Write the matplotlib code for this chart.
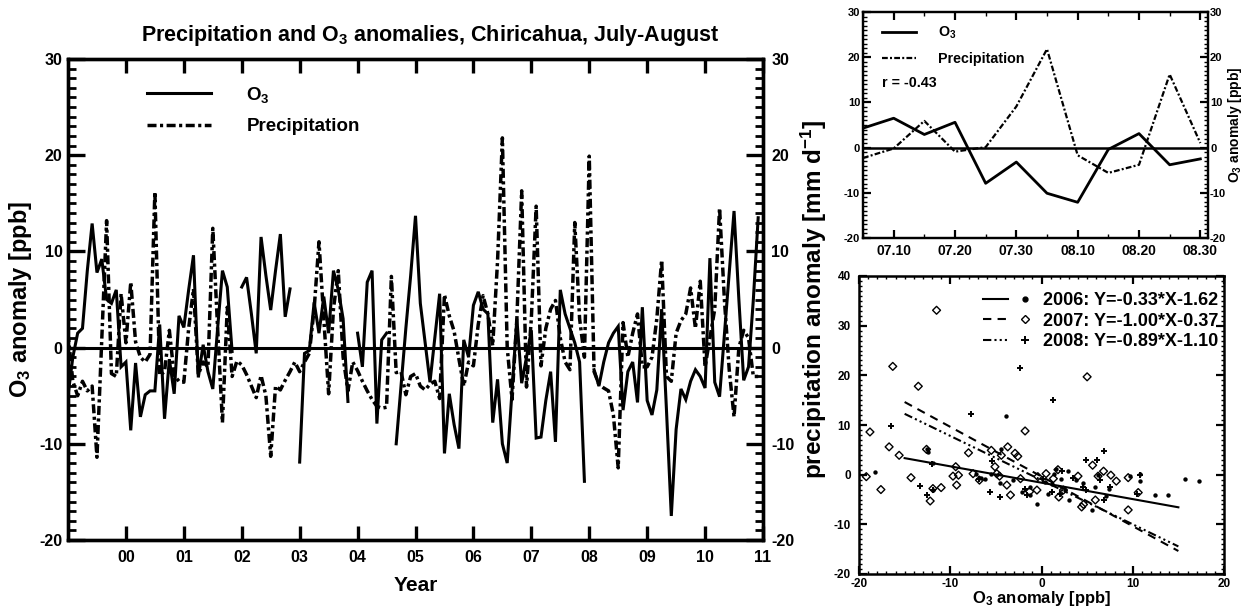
import numpy as np
import matplotlib.pyplot as plt
from matplotlib.lines import Line2D
from matplotlib.legend_handler import HandlerTuple
from matplotlib.ticker import MultipleLocator

plt.rcParams['font.family'] = ['Liberation Sans', 'DejaVu Sans']
plt.rcParams['font.weight'] = 'bold'
plt.rcParams['axes.labelweight'] = 'bold'
plt.rcParams['axes.unicode_minus'] = False
plt.rcParams['mathtext.default'] = 'regular'

nan = np.nan

# ---- pentad anomalies, July-August, 12 pentads per year (1999-2010) ----
years = np.arange(1999, 2011)
year_ticks = ['00', '01', '02', '03', '04', '05', '06', '07', '08', '09', '10', '11']

o3_anom = [
    -5.0, -1.0, 1.5, 2.0, 8.0, 12.9, 7.8, 9.2, 5.0, 4.6, 6.0, -2.0,        # 1999
    -1.5, -8.6, -1.6, -7.2, -4.9, -4.5, -4.5, 2.4, -7.4, -1.2, -4.8, 3.3,  # 2000
    2.1, 6.0, 9.6, -3.1, 0.3, -2.5, -4.3, 2.0, 8.0, 6.3, -0.4, nan,        # 2001
    6.3, 7.3, 3.5, -0.6, 11.5, 7.5, 3.9, 8.0, 11.8, 3.2, 6.1, nan,         # 2002
    -11.9, -0.6, -0.3, 4.7, 1.5, 5.3, 1.5, 8.0, 6.0, 3.0, -5.6, nan,       # 2003
    1.5, -2.0, 6.8, 8.0, -7.9, 0.8, 1.5, nan, -10.0, -4.0, 2.0, 7.5,       # 2004
    13.7, 4.6, 0.5, -3.6, 1.0, 5.6, -11.0, -4.8, -8.0, -10.5, 0.8, -1.0,   # 2005
    4.4, 5.8, 4.0, 3.5, -7.8, -3.3, -10.0, -12.0, -4.5, 3.0, -3.7, -1.0,   # 2006
    1.8, -9.4, -9.3, -5.5, -2.5, -9.8, 6.0, 3.5, 2.0, 0.5, -1.5, -13.9,    # 2007
    nan, -2.3, -4.0, -1.5, 0.5, 1.5, 2.2, -6.5, -2.5, -1.5, -5.7, 4.2,     # 2008
    -5.5, -7.0, -4.4, 4.0, -6.5, -17.5, -8.5, -4.3, -5.4, -3.5, -2.3, -3.0,  # 2009
    -4.2, 9.3, -3.6, -5.1, 1.3, 7.7, 14.2, 5.0, -3.4, -2.0, 5.0, 13.5,     # 2010
]

precip_anom = [
    1.5, -3.5, -5.0, -3.5, -4.5, -4.0, -11.4, 1.0, 13.2, -2.7, -3.0, 5.6,  # 1999
    0.5, 6.8, 0.6, -1.0, -1.5, -0.7, 16.2, -2.9, -2.5, 1.8, -2.9, -3.5,    # 2000
    -3.6, 2.0, 6.1, -2.8, -1.5, -2.0, 12.4, 2.0, -7.8, 4.2, -3.0, -1.4,    # 2001
    -1.8, -2.8, -4.0, -5.2, -2.9, -5.0, -11.3, -4.0, -4.4, -3.4, -2.5, -1.5,  # 2002
    -2.5, -1.5, -0.6, 4.0, 11.0, 3.0, -4.8, 4.0, 8.0, -1.0, -4.5, -1.5,    # 2003
    -2.4, -3.5, -4.5, -5.4, -6.1, -6.3, -6.2, 7.4, -2.6, -2.5, -4.9, -3.0, # 2004
    -2.7, -4.0, -4.4, -3.8, -3.5, -5.3, 5.5, 3.3, 1.7, -1.2, -4.0, -1.5,   # 2005
    -1.9, 2.4, 5.4, 3.5, 0.2, 9.0, 21.8, 0.0, -5.4, 3.0, 16.3, -4.1,       # 2006
    3.0, 14.7, -1.9, 2.0, 4.0, 4.9, 1.0, -1.5, -2.3, 13.0, 3.0, -1.0,      # 2007
    19.9, -2.5, -3.8, -4.2, -4.5, -7.0, -12.5, 2.6, -1.0, 1.5, 3.5, -2.0,  # 2008
    -2.0, -1.0, 3.0, 9.1, -3.0, -3.5, 1.5, 2.8, 3.5, 6.2, 2.0, 6.9,        # 2009
    -2.0, 1.0, 4.0, 14.5, 5.0, -2.3, -7.2, 0.0, 1.8, 1.0, -3.0, -3.0,      # 2010
]

# ---- a single season ----
pentad_ticks = ['07.10', '07.20', '07.30', '08.10', '08.20', '08.30']
season_o3 = [4.3, 6.5, 2.9, 5.6, -7.9, -3.2, -10.1, -12.1, -0.4, 3.1, -3.8, -2.5]
season_precip = [-2.3, -0.2, 5.9, -0.9, 0.1, 9.1, 21.8, -1.7, -5.6, -3.8, 16.2, 1.0]
r_value = -0.43

# ---- O3 vs precipitation anomalies by year ----
o3_2006 = [-18.2, -12.6, -12.4, -11.9, -11.9, -7.2, -6.6, -6.2, -5.5, -4.6, -4.4, -3.9,
           -3.1, -2.1, -1.3, -1.3, -0.5, 0.4, 0.7, 1.1, 1.4, 1.6, 2.1, 2.6, 2.9, 3.0,
           3.8, 4.6, 5.5, 5.9, 6.2, 7.1, 7.4, 9.7, 10.8, 10.8, 12.4, 13.9, 15.7, 17.3]
pr_2006 = [0.5, 5.1, 4.6, 2.3, -3.0, 0.2, -0.6, -0.8, 0.2, -1.6, 5.1, 11.8,
           -1.1, -3.4, -4.1, -2.4, -6.0, -1.4, -3.8, -1.8, 0.2, 1.2, -0.8, -3.1, 0.8, -5.1,
           -1.1, -1.6, -7.2, -2.4, -0.1, -4.3, -2.8, -0.3, -1.3, 0.2, -4.0, -4.0, -0.8, -1.2]

o3_2007 = [-19.2, -18.8, -17.6, -16.7, -16.3, -15.6, -14.3, -13.5, -12.6, -12.2, -11.9,
           -11.5, -11.0, -9.7, -9.4, -9.3, -9.1, -8.0, -7.5, -6.8, -5.5, -5.1, -4.9, -4.6,
           -4.4, -3.8, -3.7, -3.4, -2.9, -2.6, -2.3, -1.8, -1.3, -0.5, -0.4, 0.5, 1.3, 1.8,
           1.9, 2.4, 4.0, 4.4, 4.6, 5.0, 5.6, 5.9, 6.2, 6.8, 7.6, 8.2, 9.5, 9.5, 10.6]
pr_2007 = [-0.4, 8.6, -3.0, 5.6, 21.8, 3.9, -0.6, 17.8, 5.1, -5.3, -2.8,
           33.1, -2.6, -0.3, 1.6, -2.1, -0.1, 4.4, 0.2, -1.1, 4.9, 1.6, 0.2, -0.3,
           3.9, -2.1, 5.6, -4.1, 4.3, 3.7, -0.8, 8.8, -3.4, -3.1, -0.4, 0.2, -0.8, 1.0,
           -4.5, -3.1, -0.3, -6.5, -6.0, 19.7, 1.9, -5.1, -0.3, 0.7, -0.1, -1.3, -0.6, -7.1, -3.6]

o3_2008 = [-16.5, -13.3, -12.5, -12.0, -11.9, -7.7, -6.9, -5.6, -5.4, -4.6, -2.4, -1.8,
           -1.6, 0.2, 1.1, 1.3, 2.0, 2.2, 3.5, 4.6, 4.9, 4.9, 6.1, 6.4, 6.8, 6.8, 7.5,
           10.5, 10.8]
pr_2008 = [9.8, -2.3, -4.0, 2.1, -3.1, 12.3, -0.8, -3.4, 2.8, -4.5, 21.4, -2.8,
           -4.1, -0.8, -3.4, 15.1, -3.8, 0.8, -0.6, -2.4, 2.9, -3.1, 2.9, -1.1, 4.7, -5.0, -2.4,
           -3.8, 0.0]

fit_years = ['2006', '2007', '2008']
fit_slope = [-0.33, -1.00, -0.89]
fit_icept = [-1.62, -0.37, -1.10]
fit_range = [-15, 15]

# ---------------------------------------------------------------------------
fig = plt.figure(figsize=(12.42, 6.07), dpi=100)

W, H = 1242.0, 607.0
def box(x0, y0, x1, y1):
    return [x0 / W, 1 - y1 / H, (x1 - x0) / W, (y1 - y0) / H]

dashdot = (0, (2.6, 1.0, 0.9, 1.0))
O3 = r'O$_3$'

# ---- long time series ----
ax = fig.add_axes(box(68, 59, 763, 540))
ax2 = ax.twinx()

n_yr = len(years)
t = np.repeat(years - 2000, 12) + np.tile(np.arange(12) / 12.0, n_yr)

ax.axhline(0, color='k', lw=2.2, zorder=1)
l_o3, = ax.plot(t, o3_anom, color='k', lw=2.2, solid_joinstyle='miter')
l_pr, = ax2.plot(t, precip_anom, color='k', lw=2.5, linestyle=dashdot)

for a in (ax, ax2):
    a.set_ylim(-20, 30)
    a.set_xlim(-1, 11)
    a.yaxis.set_major_locator(MultipleLocator(10))
    a.yaxis.set_minor_locator(MultipleLocator(1))
    for s in a.spines.values():
        s.set_linewidth(2.4)

ax.set_xticks(np.arange(0, 12))
ax.set_xticklabels(year_ticks)
ax.tick_params(axis='x', which='major', direction='in', length=10, width=2.4,
               top=True, labelsize=11.5, pad=7)
ax.tick_params(axis='y', which='major', direction='in', length=12, width=2.4,
               labelsize=11.5, pad=4)
ax.tick_params(axis='y', which='minor', direction='in', length=6, width=2)
ax2.tick_params(axis='y', which='major', direction='in', length=12, width=2.4,
                labelsize=11.5, pad=6)
ax2.tick_params(axis='y', which='minor', direction='in', length=6, width=2)

ax.set_xlabel('Year', fontsize=15, labelpad=8)
ax.set_ylabel(O3 + ' anomaly [ppb]', fontsize=17, labelpad=4)
ax2.set_ylabel(r'precipitation anomaly [mm d$^{-1}$]', fontsize=17.5, labelpad=3)

fig.text(430 / W, 1 - 36 / H,
         'Precipitation and ' + O3 + ' anomalies, Chiricahua, July-August',
         ha='center', va='center', fontsize=15.5)

ax.legend([l_o3, l_pr], [O3, 'Precipitation'], loc='upper left',
          bbox_to_anchor=((147 - 68) / 695.0, (540 - 85) / 481.0),
          frameon=False, fontsize=13.5, handlelength=3.4, handletextpad=1.9,
          labelspacing=0.7, borderpad=0, borderaxespad=0)

# ---- one season ----
axi = fig.add_axes(box(863, 12, 1208, 238))
axi2 = axi.twinx()
idx = np.arange(len(season_o3))
axi.axhline(0, color='k', lw=1.8, zorder=1)
i_pr, = axi.plot(idx, season_precip, color='k', lw=1.6, linestyle=dashdot)
i_o3, = axi2.plot(idx, season_o3, color='k', lw=2.0)

for a in (axi, axi2):
    a.set_ylim(-20, 30)
    a.set_xlim(0, 11.25)
    a.yaxis.set_major_locator(MultipleLocator(10))
    a.yaxis.set_minor_locator(MultipleLocator(1))
    for s in a.spines.values():
        s.set_linewidth(1.6)
axi.set_xticks(np.arange(1, 12, 2))
axi.set_xticklabels(pentad_ticks)
axi.xaxis.set_minor_locator(MultipleLocator(1))
axi.tick_params(axis='x', which='major', direction='in', length=6, width=1.6,
                top=True, labelsize=10, pad=4)
axi.tick_params(axis='x', which='minor', direction='in', length=3, width=1, top=True)
axi.tick_params(axis='y', which='major', direction='in', length=6, width=1.6,
                labelsize=8, pad=2)
axi.tick_params(axis='y', which='minor', direction='in', length=3, width=1)
axi2.tick_params(axis='y', which='major', direction='in', length=6, width=1.6,
                 labelsize=8, pad=1.5)
axi2.tick_params(axis='y', which='minor', direction='in', length=3, width=1)
axi2.set_ylabel(O3 + ' anomaly [ppb]', fontsize=10, labelpad=0)

axi.legend([i_o3, i_pr], [O3, 'Precipitation'], loc='upper left',
           bbox_to_anchor=((882 - 863) / 345.0, (238 - 25) / 226.0),
           frameon=False, fontsize=10.3, handlelength=2.4, handletextpad=1.5,
           labelspacing=0.75, borderpad=0, borderaxespad=0)
axi.text((882 - 863) / 345.0, (238 - 83) / 226.0, 'r = %.2f' % r_value,
         transform=axi.transAxes, ha='left', va='center', fontsize=10.3)

# ---- scatter with linear fits ----
axs = fig.add_axes(box(859, 276, 1224, 574))
axs.scatter(o3_2006, pr_2006, s=10, marker='o', color='k', linewidths=0, zorder=3)
axs.scatter(o3_2007, pr_2007, s=16, marker='D', facecolors='none', edgecolors='k',
            linewidths=1.0, zorder=3)
axs.scatter(o3_2008, pr_2008, s=22, marker='+', color='k', linewidths=1.4, zorder=3)

fit_styles = ['-', (0, (4, 3)), (0, (4, 1.5, 1, 1.5, 1, 1.5, 1, 1.5))]
fit_markers = [dict(marker='o', ms=3.5, mfc='k', mec='k'),
               dict(marker='D', ms=4, mfc='none', mec='k', mew=1.0),
               dict(marker='+', ms=6, mec='k', mew=1.4)]
xf = np.array(fit_range, dtype=float)
handles, labels = [], []
for yr, m, b, st, mk in zip(fit_years, fit_slope, fit_icept, fit_styles, fit_markers):
    axs.plot(xf, m * xf + b, color='k', lw=1.5, linestyle=st)
    mh = Line2D([], [], linestyle='none', **mk)
    handles.append((Line2D([], [], color='k', lw=1.5, linestyle=st), mh))
    labels.append('%s: Y=%.2f*X%+.2f' % (yr, m, b))

axs.legend(handles, labels, handler_map={tuple: HandlerTuple(ndivide=None, pad=0.2)},
           loc='upper left', bbox_to_anchor=((983 - 859) / 365.0, (574 - 292) / 298.0),
           frameon=False, fontsize=13, handlelength=3.0, handletextpad=0.3,
           labelspacing=0.2, borderpad=0, borderaxespad=0)

axs.set_xlim(-20, 20)
axs.set_ylim(-20, 40)
axs.xaxis.set_major_locator(MultipleLocator(10))
axs.xaxis.set_minor_locator(MultipleLocator(1))
axs.yaxis.set_major_locator(MultipleLocator(10))
axs.yaxis.set_minor_locator(MultipleLocator(1))
for s in axs.spines.values():
    s.set_linewidth(1.8)
axs.tick_params(which='major', direction='in', length=6, width=1.6,
                top=True, right=True, labelsize=8.5)
axs.tick_params(which='minor', direction='in', length=2.5, width=1,
                top=True, right=True)
axs.tick_params(axis='x', pad=3)
axs.tick_params(axis='y', pad=6)
axs.set_xlabel(O3 + ' anomaly [ppb]', fontsize=12, labelpad=-1)

fig.savefig('out.png', dpi=100)
